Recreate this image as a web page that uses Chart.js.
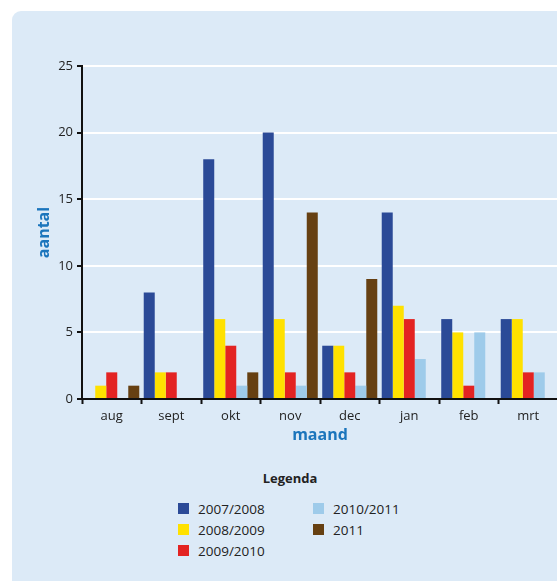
<!DOCTYPE html>
<html>
<head>
<meta charset="utf-8">
<script src="https://cdn.jsdelivr.net/npm/chart.js@4/dist/chart.umd.min.js"></script>
<style>
  html, body { margin: 0; padding: 0; background: #ffffff; overflow: hidden; width: 557px; height: 581px; }
  #panel {
    position: absolute; left: 12px; top: 11px; width: 560px; height: 580px;
    background: #dceaf7; border-top-left-radius: 9px;
  }
  #wrap { position: absolute; left: 0; top: 0; width: 570px; height: 460px; }
  #legendTitle {
    position: absolute; left: 190px; width: 200px; top: 469px; text-align: center;
    font: bold 13px "Open Sans", sans-serif; color: #222;
  }
  #legend {
    position: absolute; left: 178px; top: 498px;
    display: grid; grid-template-rows: repeat(3, 21px); grid-auto-flow: column;
    grid-auto-columns: 135px;
    font: 13.5px "Open Sans", sans-serif; color: #222;
  }
  #legend .item { display: flex; align-items: center; height: 21px; }
  #legend .box { width: 11px; height: 11px; margin-right: 9px; flex: none; }
</style>
</head>
<body>
<div id="panel"></div>
<div id="wrap"><canvas id="c"></canvas></div>
<div id="legendTitle">Legenda</div>
<div id="legend"></div>
<script>
// Maanden (schooljaar aug - mrt)
const months = ['aug', 'sept', 'okt', 'nov', 'dec', 'jan', 'feb', 'mrt'];

// Aantal per maand, per periode
const s2007_2008 = [0, 8, 18, 20, 4, 14, 6, 6];
const s2008_2009 = [1, 2, 6, 6, 4, 7, 5, 6];
const s2009_2010 = [2, 2, 4, 2, 2, 6, 1, 2];
const s2010_2011 = [0, 0, 1, 1, 1, 3, 5, 2];
const s2011      = [1, 0, 2, 14, 9, 0, 0, 0];

const seriesNames = ['2007/2008', '2008/2009', '2009/2010', '2010/2011', '2011'];
const seriesColors = ['#2b4a97', '#ffe100', '#e32322', '#9ecbea', '#664012'];
const seriesValues = [s2007_2008, s2008_2009, s2009_2010, s2010_2011, s2011];

const yTicks = [0, 5, 10, 15, 20, 25];

const FONT = '"Open Sans", sans-serif';
const TITLE_BLUE = '#1b75bc';

const chart = new Chart(document.getElementById('c'), {
  type: 'bar',
  data: {
    labels: months,
    datasets: seriesNames.map((name, i) => ({
      label: name,
      data: seriesValues[i],
      backgroundColor: seriesColors[i],
      borderWidth: 0,
      categoryPercentage: 0.925,
      barPercentage: 1.0
    }))
  },
  options: {
    responsive: true,
    maintainAspectRatio: false,
    animation: false,
    layout: { padding: { left: 30, right: 12, top: 66, bottom: 0 } },
    plugins: { legend: { display: false }, tooltip: { enabled: false } },
    scales: {
      x: {
        grid: {
          offset: true,
          drawOnChartArea: false,
          drawTicks: true,
          tickLength: 5,
          tickColor: '#111',
          tickWidth: 2
        },
        border: { display: true, color: '#111', width: 2 },
        ticks: { color: '#222', font: { family: FONT, size: 13 }, padding: 4, maxRotation: 0 },
        title: {
          display: true, text: 'maand', color: TITLE_BLUE,
          font: { family: FONT, size: 16, weight: 'bold' },
          padding: { top: 0, bottom: 15 }
        },
        afterFit(scale) { scale.height = 61; }
      },
      y: {
        min: 0, max: 25,
        afterBuildTicks(scale) { scale.ticks = yTicks.map(v => ({ value: v })); },
        grid: {
          color: ctx => (ctx.tick && ctx.tick.value === 0 ? 'rgba(0,0,0,0)' : '#ffffff'),
          lineWidth: 2,
          drawTicks: true,
          tickLength: 5,
          tickColor: '#111',
          tickWidth: 2
        },
        border: { display: true, color: '#111', width: 2 },
        ticks: { color: '#222', font: { family: FONT, size: 13 }, padding: 4 },
        title: {
          display: true, text: 'aantal', color: TITLE_BLUE,
          font: { family: FONT, size: 16, weight: 'bold' },
          padding: { top: 5, bottom: 0 }
        },
        afterFit(scale) { scale.width = 52; }
      }
    }
  }
});

// Legenda in kolommen van drie, opgebouwd uit de datasets
const legendEl = document.getElementById('legend');
chart.data.datasets.forEach(ds => {
  const item = document.createElement('div');
  item.className = 'item';
  const box = document.createElement('span');
  box.className = 'box';
  box.style.background = ds.backgroundColor;
  const txt = document.createElement('span');
  txt.textContent = ds.label;
  item.appendChild(box);
  item.appendChild(txt);
  legendEl.appendChild(item);
});
</script>
</body>
</html>
